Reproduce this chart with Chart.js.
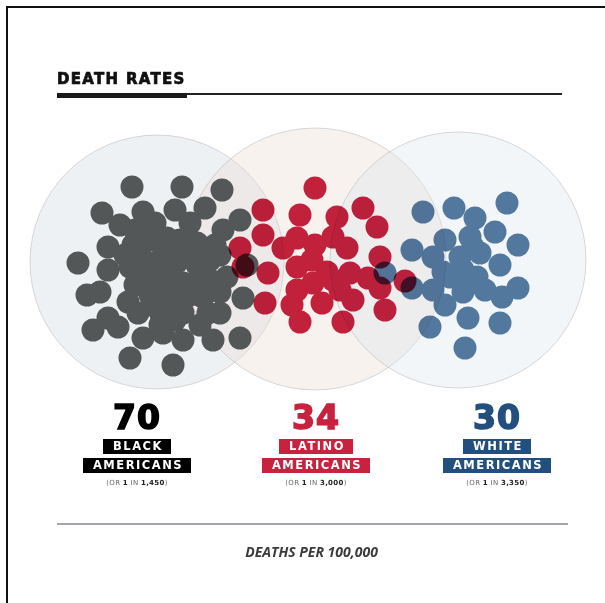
<!DOCTYPE html>
<html>
<head>
<meta charset="utf-8">
<script src="https://cdn.jsdelivr.net/npm/chart.js"></script>
<style>
  html, body { margin: 0; padding: 0; background: #fff; }
  #wrap { position: relative; width: 605px; height: 603px; overflow: hidden; }
  #chartBox { position: absolute; left: 0; top: 0; width: 605px; height: 603px; }
  .frame { position: absolute; left: 6px; top: 6px; width: 640px; height: 640px;
           border-top: 2px solid #111; border-left: 2px solid #111; }
  .title { position: absolute; left: 57px; top: 70px; font: bold 15px "DejaVu Sans", sans-serif;
           letter-spacing: 1.3px; color: #111; -webkit-text-stroke: 0.7px #111; }
  .rule-thin { position: absolute; left: 57px; top: 93px; width: 505px; height: 2px; background: #222; }
  .rule-thick { position: absolute; left: 57px; top: 93px; width: 130px; height: 5px; background: #1a1a1a; }
  .group { position: absolute; top: 400px; width: 180px; margin-left: -90px; text-align: center; }
  .num { font: bold 33px "DejaVu Sans", sans-serif; line-height: 35px; letter-spacing: 1px; }
  .tag { display: inline-block; color: #fff; font: bold 11.5px "DejaVu Sans", sans-serif;
         letter-spacing: 1.5px; line-height: 15px; height: 15px; padding: 0 8px 0 10px; margin-top: 4px; }
  .sub { font: 7px "DejaVu Sans", sans-serif; color: #666; margin-top: 6px; letter-spacing: 0.3px; }
  .sub b { color: #222; }
  .bottom-rule { position: absolute; left: 57px; top: 523px; width: 511px; height: 2px; background: #a3a5aa; }
  .foot { position: absolute; left: 0; width: 623px; top: 542px; text-align: center;
          font: italic bold 14px "Open Sans", sans-serif; color: #3b3b3e; }
</style>
</head>
<body>
<div id="wrap">
  <div id="chartBox"><canvas id="dotsChart"></canvas></div>
  <div class="frame"></div>
  <div class="title">DEATH RATES</div>
  <div class="rule-thin"></div>
  <div class="rule-thick"></div>
  <div id="labels"></div>
  <div class="bottom-rule"></div>
  <div class="foot">DEATHS PER 100,000</div>
</div>
<script>
// groups, rates and "1 in N" notes
const categories = ['BLACK', 'LATINO', 'WHITE'];
const rates = [70, 34, 30];
const oneIn = ['1,450', '3,000', '3,350'];
const groupColors = ['#535758', '#c8223f', '#577ca2'];
const numberColors = ['#000000', '#c8223f', '#234f7e'];
const tagColors = ['#000000', '#c8223f', '#234f7e'];

// big background circles (center x, center y, radius)
const circleX = [157, 315, 458];
const circleY = [262, 259, 260];
const circleR = [127, 131, 128];

// one dot per death per 100,000, positions
const blackX = [132,182,222,102,143,175,205,120,155,190,223,240,108,133,167,197,78,108,130,157,177,197,220,247,
  135,160,183,207,227,87,100,128,157,178,203,220,243,108,138,160,183,208,220,93,118,143,163,183,213,240,130,173,
  140,150,165,185,145,170,195,150,170,190,125,210,160,200,135,180,215,175];
const blackY = [187,187,190,213,212,210,208,225,223,223,230,220,247,245,238,243,263,270,267,262,262,265,255,265,
  285,280,283,277,277,295,292,302,307,302,297,292,298,318,313,312,313,313,313,330,327,338,333,340,340,338,358,365,
  255,240,250,250,275,275,285,295,290,295,255,260,325,325,230,240,245,320];
const latinoX = [315,263,300,337,363,377,263,240,283,297,315,333,347,380,243,268,297,312,327,350,368,405,297,313,
  340,353,265,292,322,385,300,343,333,380];
const latinoY = [188,210,215,217,208,227,235,248,248,238,245,237,248,257,267,273,267,260,272,273,278,281,290,283,
  290,300,303,305,303,310,322,322,280,288];
const whiteX = [423,454,507,475,495,445,470,518,412,433,460,480,500,385,443,463,477,412,433,463,485,502,518,445,
  430,468,500,465,450,473];
const whiteY = [212,208,203,218,232,240,237,245,250,257,257,253,265,273,272,270,277,288,290,292,290,297,288,305,
  327,318,323,348,277,247];

function toPoints(xs, ys) {
  return xs.map((x, i) => ({ x: x, y: ys[i] }));
}

const circles = circleX.map((x, i) => ({ x: x, y: circleY[i], r: circleR[i] }));

// draw a whole group on its own layer, then multiply it onto the chart
// so dots of one group do not darken each other but overlap other groups
const layerBlend = {
  id: 'layerBlend',
  beforeDatasetDraw(chart, args) {
    const ds = chart.data.datasets[args.index];
    if (!ds.blend) return;
    const off = document.createElement('canvas');
    off.width = chart.canvas.width;
    off.height = chart.canvas.height;
    const octx = off.getContext('2d');
    octx.setTransform(chart.ctx.getTransform());
    args.meta.controller._ctx = octx;
    chart.$layer = off;
  },
  afterDatasetDraw(chart, args) {
    const ds = chart.data.datasets[args.index];
    if (!ds.blend || !chart.$layer) return;
    args.meta.controller._ctx = chart.ctx;
    const ctx = chart.ctx;
    ctx.save();
    ctx.setTransform(1, 0, 0, 1, 0, 0);
    ctx.globalCompositeOperation = ds.blend;
    ctx.drawImage(chart.$layer, 0, 0);
    ctx.restore();
    chart.$layer = null;
  }
};

new Chart(document.getElementById('dotsChart'), {
  type: 'scatter',
  data: {
    datasets: [
      { label: categories[2], data: toPoints(whiteX, whiteY), order: 0, blend: 'multiply',
        backgroundColor: groupColors[2], borderWidth: 0, pointRadius: 11.5 },
      { label: categories[1], data: toPoints(latinoX, latinoY), order: 1, blend: 'multiply',
        backgroundColor: groupColors[1], borderWidth: 0, pointRadius: 11.5 },
      { label: categories[0], data: toPoints(blackX, blackY), order: 2,
        backgroundColor: groupColors[0], borderWidth: 0, pointRadius: 11.5 },
      { type: 'bubble', label: 'circles', data: circles, order: 3,
        backgroundColor: ['rgba(212,222,228,0.42)', 'rgba(236,219,210,0.35)', 'rgba(218,230,237,0.35)'],
        borderColor: 'rgba(150,150,150,0.35)', borderWidth: 1 }
    ]
  },
  options: {
    responsive: true,
    maintainAspectRatio: false,
    animation: false,
    events: [],
    layout: { padding: 0, autoPadding: false },
    plugins: { legend: { display: false }, tooltip: { enabled: false } },
    scales: {
      x: { type: 'linear', min: 0, max: 605, display: false },
      y: { type: 'linear', min: 0, max: 603, reverse: true, display: false }
    }
  },
  plugins: [layerBlend]
});

// number + label blocks under each circle
const labelBox = document.getElementById('labels');
const centers = [137, 316, 497];
categories.forEach((name, i) => {
  const g = document.createElement('div');
  g.className = 'group';
  g.style.left = centers[i] + 'px';
  g.innerHTML =
    '<div class="num" style="color:' + numberColors[i] + ';-webkit-text-stroke:1.6px ' + numberColors[i] + '">' + rates[i] + '</div>' +
    '<div><span class="tag" style="background:' + tagColors[i] + '">' + name + '</span></div>' +
    '<div><span class="tag" style="background:' + tagColors[i] + '">AMERICANS</span></div>' +
    '<div class="sub">(OR <b>1</b> IN <b>' + oneIn[i] + '</b>)</div>';
  labelBox.appendChild(g);
});
</script>
</body>
</html>
